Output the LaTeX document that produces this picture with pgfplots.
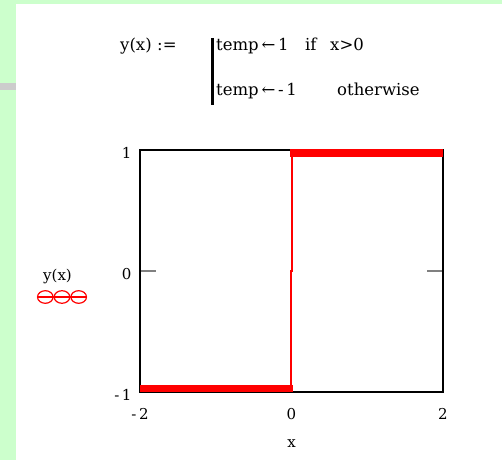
\documentclass[border=0pt]{standalone}
\usepackage{pgfplots}
\pgfplotsset{compat=1.18}
\usepackage{fontspec}
\setmainfont{DejaVu Serif}
\definecolor{bggreen}{RGB}{204,255,204}
\definecolor{mcred}{RGB}{255,0,0}
\begin{document}
\begin{tikzpicture}
\useasboundingbox (0,0) rectangle (502bp,460bp);
\fill[bggreen] (0,0) rectangle (502bp,460bp);
\fill[white] (16bp,0) rectangle (502bp,456bp);
\fill[black!20] (0,370bp) rectangle (16bp,377bp);
% formula
\begin{scope}[every node/.style={anchor=base west, inner sep=0pt, font=\fontsize{16.5bp}{19bp}\selectfont}]
\node at (120bp,409bp) {y(x)};
\node at (157bp,409bp) {:=};
\draw[line width=3bp] (212bp,422bp) -- (212bp,355bp);
\node at (216bp,409bp) {temp\,←\,1};
\node at (305bp,409bp) {if};
\node at (330bp,409bp) {x>0};
\node at (216bp,364bp) {temp\,←\,-\,1};
\node at (337bp,364bp) {otherwise};
\end{scope}
% y label with trace symbol
\node[font=\fontsize{15bp}{17bp}\selectfont, inner sep=0pt] at (57.5bp,184bp) {y(x)};
\draw[mcred, line width=1.2bp] (37bp,163bp) -- (87bp,163bp);
\draw[mcred, line width=1.2bp] (45.3bp,163bp) ellipse [x radius=7.8bp, y radius=6.3bp];
\draw[mcred, line width=1.2bp] (62bp,163bp) ellipse [x radius=7.8bp, y radius=6.3bp];
\draw[mcred, line width=1.2bp] (78.7bp,163bp) ellipse [x radius=7.8bp, y radius=6.3bp];
\begin{axis}[
  at={(140bp,68bp)}, anchor=south west,
  scale only axis, width=303bp, height=242bp,
  xmin=-2, xmax=2, ymin=-1, ymax=1,
  xtick={-2,0,2}, xticklabels={{-\,2},0,2},
  ytick={-1,0,1}, yticklabels={{-\,1},0,1},
  tick align=inside,
  ytick style={line width=1.2bp},
  xtick style={line width=1.2bp},
  major tick length=16bp,
  x tick label style={font=\fontsize{15bp}{17bp}\selectfont, yshift=-13bp},
  y tick label style={font=\fontsize{15bp}{17bp}\selectfont, yshift=-3bp, xshift=-5bp},
  axis line style={line width=1.2bp},
  xlabel={x}, xlabel style={font=\fontsize{15bp}{17bp}\selectfont, yshift=-13bp},
]
\addplot[mcred, line width=14bp, line cap=butt] coordinates {(-2,-1) (0.02,-1)};
\addplot[mcred, line width=14bp, line cap=butt] coordinates {(-0.02,1) (2,1)};
\addplot[mcred, line width=1.6bp] coordinates {(-0.005,-1) (-0.005,0) (0.005,0) (0.005,1)};
\end{axis}
\end{tikzpicture}
\end{document}
